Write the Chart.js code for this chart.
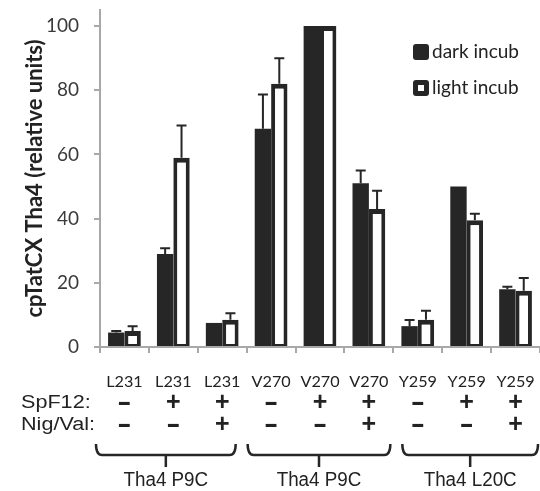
<!DOCTYPE html>
<html lang="en">
<head>
  <meta charset="UTF-8" />
  <title>cpTatCX Tha4</title>
  <style>
    html, body {
      margin: 0;
      padding: 0;
      background: #fff;
    }
  </style>
</head>
<body>
  <canvas id="chart" width="540" height="491"></canvas>

  <script src="https://cdn.jsdelivr.net/npm/chart.js"></script>
  <script>
    // data
    const categories = ['L231', 'L231', 'L231', 'V270', 'V270', 'V270', 'Y259', 'Y259', 'Y259'];
    const spf12 = ['-', '+', '+', '-', '+', '+', '-', '+', '+'];
    const nigVal = ['-', '-', '+', '-', '-', '+', '-', '-', '+'];
    const groupNames = ['Tha4 P9C', 'Tha4 P9C', 'Tha4 L20C'];
    const groupSpans = [[0, 2], [3, 5], [6, 8]];
    const darkIncub = [4.5, 29, 7.5, 68, 100, 51, 6.5, 50, 18];
    const darkErr = [0.5, 1.8, 0, 10.7, 0, 4, 1.9, 0, 0.8];
    const lightIncub = [5, 59, 8.5, 82, 100, 43, 8.5, 39.5, 17.5];
    const lightErr = [1.5, 10, 2, 8, 0, 5.7, 2.8, 2, 4];
    const yTicks = [0, 20, 40, 60, 80, 100];

    const ink = '#262626';
    const axisGray = '#a8a8a8';
    // brace ends, nudged from the group edges (px)
    const braceInset = [[-4, 11], [1, 3], [9, 2]];

    function wideText(ctx, text, x, y, sx) {
      ctx.save();
      ctx.translate(x, y);
      ctx.scale(sx, 1);
      ctx.fillText(text, 0, 0);
      ctx.restore();
    }

    const errorBars = {
      id: 'errorBars',
      afterDatasetsDraw(chart) {
        const ctx = chart.ctx;
        const y = chart.scales.y;
        const errSets = [darkErr, lightErr];
        ctx.save();
        ctx.strokeStyle = ink;
        ctx.lineWidth = 2;
        chart.data.datasets.forEach((ds, di) => {
          chart.getDatasetMeta(di).data.forEach((bar, i) => {
            const e = errSets[di][i];
            if (!e) return;
            const top = y.getPixelForValue(ds.data[i] + e);
            ctx.beginPath();
            ctx.moveTo(bar.x, bar.y);
            ctx.lineTo(bar.x, top);
            ctx.moveTo(bar.x - 5, top);
            ctx.lineTo(bar.x + 5, top);
            ctx.stroke();
          });
        });
        ctx.restore();
      }
    };

    const extras = {
      id: 'extras',
      afterDraw(chart) {
        const ctx = chart.ctx;
        const x = chart.scales.x;
        const step = x.getPixelForValue(1) - x.getPixelForValue(0);
        ctx.save();
        ctx.textBaseline = 'middle';

        // legend
        ctx.font = '19px Lato';
        ctx.textAlign = 'left';
        chart.data.datasets.forEach((ds, i) => {
          const ly = 52 + i * 36;
          ctx.fillStyle = ink;
          ctx.beginPath();
          ctx.roundRect(413, ly - 8, 16, 16, 3);
          ctx.fill();
          if (i === 1) {
            ctx.fillStyle = '#fff';
            ctx.fillRect(418, ly - 3, 6, 6);
          }
          ctx.fillStyle = '#222';
          ctx.fillText(ds.label, 432, ly);
        });

        // category row
        ctx.textAlign = 'center';
        ctx.font = '15px Lato';
        categories.forEach((c, i) => wideText(ctx, c, x.getPixelForValue(i), 382, 1.08));

        // treatment rows
        ctx.font = 'bold 25px "Liberation Sans"';
        spf12.forEach((s, i) => wideText(ctx, s, x.getPixelForValue(i), 403, s === '-' ? 1.7 : 1));
        nigVal.forEach((s, i) => wideText(ctx, s, x.getPixelForValue(i), 425, s === '-' ? 1.7 : 1));
        ctx.font = '18px "Liberation Sans"';
        ctx.textAlign = 'left';
        wideText(ctx, 'SpF12:', 21, 403, 1.2);
        wideText(ctx, 'Nig/Val:', 21, 425, 1.2);

        // braces + group names
        ctx.strokeStyle = ink;
        ctx.lineWidth = 2.5;
        ctx.textAlign = 'center';
        ctx.font = '20px "Liberation Sans"';
        groupSpans.forEach((g, k) => {
          const l = x.getPixelForValue(g[0]) - step / 2 + braceInset[k][0];
          const r = x.getPixelForValue(g[1]) + step / 2 - braceInset[k][1];
          const m = (l + r) / 2;
          ctx.beginPath();
          ctx.moveTo(l, 444);
          ctx.quadraticCurveTo(l, 455, l + 6, 455);
          ctx.lineTo(r - 6, 455);
          ctx.quadraticCurveTo(r, 455, r, 444);
          ctx.moveTo(m, 455);
          ctx.lineTo(m, 467);
          ctx.stroke();
          wideText(ctx, groupNames[k], m, 480, 0.94);
        });
        ctx.restore();
      }
    };

    const chart = new Chart(document.getElementById('chart'), {
      type: 'bar',
      data: {
        labels: categories,
        datasets: [{
          label: 'dark incub',
          data: darkIncub,
          backgroundColor: ink,
          borderWidth: 0
        }, {
          label: 'light incub',
          data: lightIncub,
          backgroundColor: '#fff',
          borderColor: ink,
          borderWidth: { top: 5, left: 4, right: 4, bottom: 2 },
          borderSkipped: false
        }]
      },
      options: {
        responsive: false,
        animation: false,
        categoryPercentage: 0.67,
        barPercentage: 1.0,
        layout: { padding: { top: 10, right: 0, bottom: 0, left: 0 } },
        plugins: {
          legend: { display: false },
          tooltip: { enabled: false }
        },
        scales: {
          x: {
            grid: { drawOnChartArea: false, tickLength: 6, color: axisGray, lineWidth: 2 },
            border: { color: axisGray, width: 2 },
            ticks: { display: false },
            afterFit(s) { s.height = 144; }
          },
          y: {
            min: 0,
            max: 105,
            afterBuildTicks(s) { s.ticks = yTicks.map(v => ({ value: v })); },
            ticks: { color: '#3a3a3a', font: { family: 'Lato', size: 19 }, padding: 15 },
            grid: { drawOnChartArea: false, tickLength: 6, color: axisGray, lineWidth: 2 },
            border: { color: axisGray, width: 2 },
            title: {
              display: true,
              text: 'cpTatCX Tha4 (relative units)',
              color: '#222',
              font: { family: 'Lato', size: 22, weight: 'bold' },
              padding: { top: 22, bottom: 0 }
            },
            afterFit(s) {
              s.width = 100;
              s.paddingTop = 0;
              s.paddingBottom = 0;
            }
          }
        }
      },
      plugins: [errorBars, extras]
    });
  </script>
</body>
</html>
